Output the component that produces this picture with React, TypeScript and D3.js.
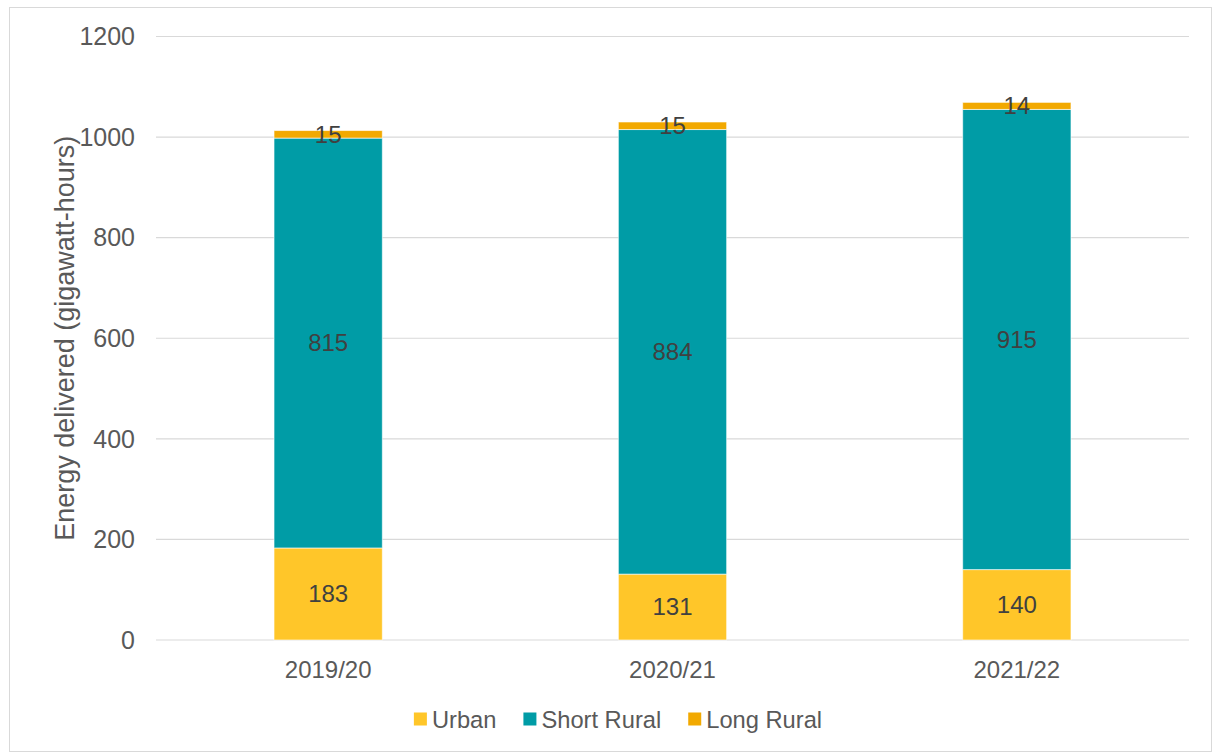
import React, { useEffect, useRef } from "react";
import * as d3 from "d3";

const categories = ["2019/20", "2020/21", "2021/22"];
const urban = [183, 131, 140];
const shortRural = [815, 884, 915];
const longRural = [15, 15, 14];
const seriesNames = ["Urban", "Short Rural", "Long Rural"];
const seriesColors = ["#FFC629", "#009CA6", "#F2A900"];
const yTicks = [0, 200, 400, 600, 800, 1000, 1200];

const W = 1213;
const H = 752;
const FONT = "'Liberation Sans', Arial, sans-serif";

export default function App() {
  const legendRef = useRef<SVGGElement | null>(null);

  const x = d3.scaleBand<string>().domain(categories).range([156, 1189]).paddingInner(0.6855).paddingOuter(0.34275);
  const y = d3.scaleLinear().domain([0, 1200]).range([640, 36.5]);

  const series = [urban, shortRural, longRural];
  const table = categories.map((c, i) => ({ cat: c, Urban: urban[i], "Short Rural": shortRural[i], "Long Rural": longRural[i] }));
  const stacked = d3.stack<any>().keys(seriesNames)(table);

  useEffect(() => {
    const g = d3.select(legendRef.current);
    if (!g.node()) return;
    g.selectAll("*").remove();
    const sq = 13;
    const gap = 5;
    const between = 27;
    const items = g.selectAll("g.item").data(seriesNames).join("g").attr("class", "item");
    items.append("rect").attr("width", sq).attr("height", sq).attr("y", -sq / 2 - 1).attr("fill", (_d, i) => seriesColors[i]);
    items
      .append("text")
      .attr("x", sq + gap)
      .attr("dy", "0.35em")
      .attr("font-family", FONT)
      .attr("font-size", 23.7)
      .attr("fill", "#595959")
      .text((d) => d);
    const widths: number[] = [];
    items.each(function () {
      widths.push((this as SVGGElement).getBBox().width);
    });
    const total = d3.sum(widths) + between * (widths.length - 1);
    let cx = 618 - total / 2;
    items.attr("transform", (_d, i) => {
      const t = `translate(${cx},720)`;
      cx += widths[i] + between;
      return t;
    });
  }, []);

  return (
    <svg width={W} height={H} style={{ position: "absolute", left: 0, top: 0, background: "#fff" }}>
      <rect x={9.5} y={7.5} width={1202} height={744} fill="#fff" stroke="#d9d9d9" strokeWidth={1} />
      {yTicks.map((t) => (
        <g key={t}>
          <line x1={156} x2={1189} y1={y(t)} y2={y(t)} stroke="#d9d9d9" strokeWidth={1.2} />
          <text x={135} y={y(t)} dy="0.35em" textAnchor="end" fontFamily={FONT} fontSize={25} fill="#595959">
            {t}
          </text>
        </g>
      ))}
      {stacked.map((s, si) => (
        <g key={s.key}>
          {s.map((d, i) => (
            <rect
              key={i}
              x={x(categories[i])!}
              width={x.bandwidth()}
              y={y(d[1])}
              height={y(d[0]) - y(d[1])}
              fill={seriesColors[si]}
              stroke="#ffffff"
              strokeOpacity={0.6}
              strokeWidth={1}
            />
          ))}
        </g>
      ))}
      {stacked.map((s, si) => (
        <g key={s.key + "-lbl"}>
          {s.map((d, i) => (
            <text
              key={i}
              x={x(categories[i])! + x.bandwidth() / 2}
              y={y((d[0] + d[1]) / 2)}
              dy="0.35em"
              textAnchor="middle"
              fontFamily={FONT}
              fontSize={24}
              fill="#404040"
            >
              {series[si][i]}
            </text>
          ))}
        </g>
      ))}
      {categories.map((c) => (
        <text key={c} x={x(c)! + x.bandwidth() / 2} y={678} textAnchor="middle" fontFamily={FONT} fontSize={24} fill="#595959">
          {c}
        </text>
      ))}
      <text
        transform={`translate(74,${(y(0) + y(1200)) / 2}) rotate(-90)`}
        textAnchor="middle"
        fontFamily={FONT}
        fontSize={27}
        fill="#595959"
      >
        Energy delivered (gigawatt-hours)
      </text>
      <g ref={legendRef} />
    </svg>
  );
}
